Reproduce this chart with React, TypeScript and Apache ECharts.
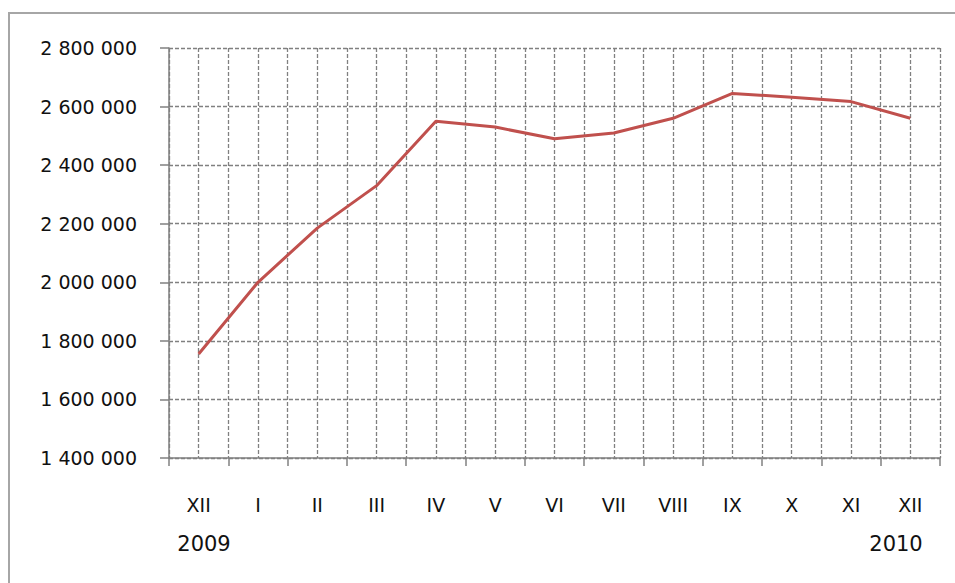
import React, { useEffect, useRef } from "react";
import * as echarts from "echarts";

const months = ["XII", "I", "II", "III", "IV", "V", "VI", "VII", "VIII", "IX", "X", "XI", "XII"];
const values = [1755000, 2000000, 2185000, 2330000, 2550000, 2530000, 2490000, 2510000, 2560000, 2645000, 2632000, 2617000, 2560000];
const yearLabels = ["2009", "2010"];
const yMin = 1400000;
const yMax = 2800000;
const yStep = 200000;

const fmt = (v: number) => String(Math.round(v)).replace(/\B(?=(\d{3})+(?!\d))/g, " ");

export default function App() {
  const ref = useRef<HTMLDivElement>(null);
  useEffect(() => {
    if (!ref.current) return;
    const chart = echarts.init(ref.current, null, { renderer: "svg" });
    const gridColor = "#808080";
    const font = "DejaVu Sans";
    chart.setOption({
      animation: false,
      backgroundColor: "#ffffff",
      textStyle: { fontFamily: font },
      grid: { left: 169, right: 15, top: 48, bottom: 125, containLabel: false },
      xAxis: [
        {
          type: "category",
          data: months,
          boundaryGap: true,
          axisLine: { show: true, lineStyle: { color: gridColor, width: 1.5 } },
          axisTick: { show: true, length: 8, lineStyle: { color: gridColor, width: 1.5 } },
          axisLabel: { margin: 37, color: "#111111", fontSize: 19, fontFamily: font },
          splitLine: { show: false },
        },
        {
          type: "value",
          min: 0,
          max: months.length * 2,
          interval: 1,
          position: "top",
          axisLine: { show: false },
          axisTick: { show: false },
          axisLabel: { show: false },
          splitLine: { show: true, lineStyle: { color: gridColor, width: 1.3, type: [4, 2] } },
        },
      ],
      yAxis: {
        type: "value",
        min: yMin,
        max: yMax,
        interval: yStep,
        axisLine: { show: true, lineStyle: { color: gridColor, width: 1.5 } },
        axisTick: { show: true, length: 9, lineStyle: { color: gridColor, width: 1.5 } },
        axisLabel: { margin: 32, color: "#111111", fontSize: 19, fontFamily: font, formatter: (v: number) => fmt(v) },
        splitLine: { show: true, lineStyle: { color: gridColor, width: 1.3, type: [4, 2] } },
      },
      series: [
        {
          type: "line",
          xAxisIndex: 0,
          data: values,
          symbol: "none",
          lineStyle: { color: "#c0504d", width: 3 },
          z: 5,
        },
      ],
      graphic: [
        {
          type: "rect",
          shape: { x: 9, y: 13, width: 1000, height: 700 },
          style: { fill: "none", stroke: "#a6a6a6", lineWidth: 2 },
          silent: true,
        },
        {
          type: "text",
          x: 204,
          y: 544,
          style: { text: yearLabels[0], fill: "#111111", fontSize: 21, fontFamily: font, align: "center", verticalAlign: "middle" },
        },
        {
          type: "text",
          x: 896,
          y: 544,
          style: { text: yearLabels[1], fill: "#111111", fontSize: 21, fontFamily: font, align: "center", verticalAlign: "middle" },
        },
      ],
    });
    return () => chart.dispose();
  }, []);
  return <div ref={ref} style={{ position: "fixed", left: 0, top: 0, width: 955, height: 583 }} />;
}
